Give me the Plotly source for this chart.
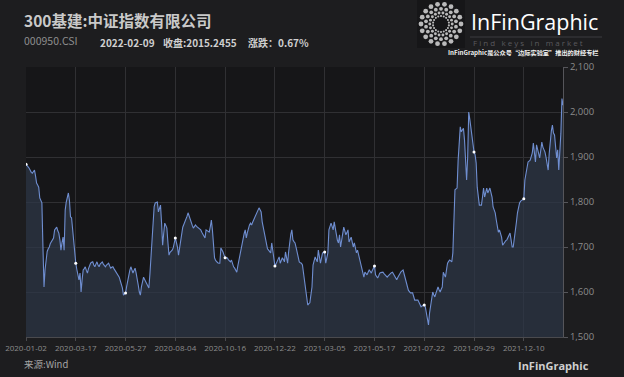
import numpy as np
import plotly.graph_objects as go

# ---------------- data ----------------
tick_labels = ["2020-01-02", "2020-03-17", "2020-05-27", "2020-08-04", "2020-10-16",
               "2020-12-22", "2021-03-05", "2021-05-17", "2021-07-22", "2021-09-29",
               "2021-12-10"]
tick_step = 47  # trading days between labelled dates
y_ticks = [1500, 1600, 1700, 1800, 1900, 2000, 2100]

close = [
    1884, 1882, 1878, 1875, 1870, 1866, 1864, 1868, 1871, 1858,
    1842, 1838, 1833, 1809, 1802, 1798, 1700, 1611, 1650, 1678,
    1690, 1696, 1700, 1708, 1712, 1716, 1720, 1738, 1741, 1744,
    1736, 1731, 1716, 1693, 1710, 1722, 1693, 1782, 1800, 1812,
    1820, 1804, 1767, 1765, 1738, 1700, 1680, 1664, 1650, 1638,
    1627, 1642, 1600, 1628, 1649, 1652, 1656, 1648, 1642, 1652,
    1660, 1664, 1666, 1667, 1660, 1656, 1662, 1667, 1660, 1656,
    1662, 1665, 1667, 1662, 1658, 1656, 1660, 1663, 1664, 1658,
    1653, 1655, 1656, 1652, 1648, 1645, 1642, 1638, 1633, 1625,
    1616, 1609, 1593, 1596, 1598, 1612, 1627, 1638, 1648, 1656,
    1650, 1642, 1648, 1653, 1642, 1631, 1615, 1600, 1593, 1612,
    1627, 1633, 1628, 1624, 1620, 1614, 1609, 1640, 1678, 1730,
    1776, 1790, 1798, 1800, 1800, 1778, 1786, 1793, 1753, 1704,
    1730, 1753, 1748, 1742, 1710, 1682, 1688, 1690, 1693, 1698,
    1710, 1720, 1710, 1700, 1682, 1700, 1716, 1730, 1744, 1750,
    1755, 1760, 1768, 1776, 1768, 1760, 1754, 1748, 1742, 1746,
    1749, 1746, 1744, 1742, 1740, 1738, 1733, 1728, 1724, 1720,
    1738, 1736, 1734, 1733, 1745, 1760, 1738, 1709, 1676, 1670,
    1667, 1665, 1664, 1664, 1698, 1694, 1689, 1682, 1676, 1676,
    1676, 1672, 1669, 1667, 1671, 1660, 1656, 1653, 1648, 1644,
    1658, 1671, 1686, 1700, 1711, 1722, 1730, 1738, 1720, 1732,
    1744, 1749, 1753, 1749, 1755, 1760, 1767, 1772, 1778, 1782,
    1787, 1783, 1778, 1756, 1744, 1731, 1716, 1700, 1696, 1693,
    1690, 1687, 1709, 1690, 1671, 1658, 1662, 1667, 1672, 1678,
    1664, 1670, 1676, 1672, 1667, 1689, 1676, 1664, 1690, 1716,
    1728, 1738, 1716, 1712, 1709, 1699, 1689, 1678, 1667, 1665,
    1664, 1660, 1640, 1620, 1598, 1585, 1571, 1574, 1576, 1594,
    1611, 1660, 1670, 1678, 1672, 1667, 1693, 1678, 1664, 1676,
    1687, 1688, 1689, 1664, 1676, 1687, 1738, 1746, 1753, 1746,
    1738, 1756, 1740, 1722, 1715, 1709, 1727, 1700, 1716, 1731,
    1744, 1736, 1727, 1732, 1738, 1711, 1716, 1722, 1711, 1700,
    1709, 1698, 1687, 1693, 1682, 1671, 1660, 1649, 1641, 1633,
    1644, 1641, 1638, 1644, 1649, 1646, 1642, 1648, 1652, 1658,
    1638, 1634, 1631, 1636, 1642, 1643, 1644, 1644, 1641, 1638,
    1636, 1633, 1636, 1639, 1642, 1643, 1644, 1640, 1635, 1631,
    1627, 1632, 1637, 1642, 1645, 1647, 1649, 1640, 1630, 1620,
    1612, 1604, 1601, 1598, 1598, 1598, 1590, 1582, 1582, 1582,
    1582, 1577, 1572, 1567, 1569, 1570, 1571, 1567, 1555, 1544,
    1527, 1553, 1571, 1589, 1600, 1594, 1589, 1597, 1604, 1611,
    1605, 1600, 1606, 1611, 1644, 1638, 1633, 1649, 1664, 1668,
    1671, 1669, 1667, 1687, 1767, 1827, 1829, 1831, 1893, 1930,
    1967, 1956, 1960, 1964, 1938, 1878, 1849, 1900, 2000, 1984,
    1967, 1938, 1925, 1911, 1905, 1887, 1833, 1812, 1793, 1793,
    1793, 1811, 1831, 1811, 1820, 1831, 1820, 1826, 1831, 1821,
    1811, 1789, 1782, 1776, 1760, 1742, 1733, 1738, 1730, 1722,
    1704, 1708, 1711, 1714, 1716, 1722, 1726, 1731, 1716, 1700,
    1700, 1716, 1731, 1755, 1776, 1789, 1798, 1802, 1804, 1806,
    1807, 1849, 1860, 1871, 1889, 1891, 1893, 1901, 1909, 1931,
    1910, 1889, 1927, 1916, 1907, 1898, 1915, 1933, 1922, 1916,
    1911, 1899, 1887, 1871, 1908, 1944, 1958, 1971, 1953, 1949,
    1924, 1898, 1916, 1871, 1912, 1953, 2030, 2015.2455,
]

# ---------------- figure ----------------
W, H = 624, 377
def px(x):
    return x / W
def py(y):
    return 1 - y / H

idx = list(range(len(close)))
tick_idx = [i * tick_step for i in range(len(tick_labels))]

BG = "#1d1d1f"
PLOT_BG = "#161618"
GRID = "#303033"
TXT = "#8c8c8c"

fig = go.Figure()
fig.add_trace(go.Scatter(
    x=idx, y=close, mode="lines",
    line=dict(color="#6f8ed0", width=1.1),
    fill="tozeroy", fillcolor="rgba(46,56,72,0.72)",
    hoverinfo="skip", showlegend=False))
fig.add_trace(go.Scatter(
    x=tick_idx, y=[close[i] for i in tick_idx], mode="markers",
    marker=dict(color="white", size=3), hoverinfo="skip", showlegend=False))

# logo (decorative rings of dots)
lx, ly, ls = [], [], []
for r, n, s, off in [(20, 18, 4.8, 0.0), (15.2, 18, 3.8, 0.5), (11.2, 18, 2.9, 0.0), (8, 18, 2.1, 0.5)]:
    for k in range(n):
        a = 2 * np.pi * (k + off) / n
        lx.append(r * np.cos(a)); ly.append(r * np.sin(a)); ls.append(s)
fig.add_trace(go.Scatter(x=lx, y=ly, mode="markers", xaxis="x3", yaxis="y3",
                         marker=dict(color="white", size=ls, line=dict(width=0)),
                         hoverinfo="skip", showlegend=False))

fig.update_layout(
    width=W, height=H,
    margin=dict(l=0, r=0, t=0, b=0, autoexpand=False),
    paper_bgcolor=BG, plot_bgcolor=PLOT_BG,
    font=dict(family="Noto Sans CJK SC, Noto Sans, sans-serif", color=TXT),
    xaxis=dict(domain=[px(26), px(563)], range=[0, len(close) - 1],
               tickvals=tick_idx, ticktext=tick_labels,
               tickfont=dict(size=8, color=TXT, family="Open Sans"),
               showgrid=True, gridcolor=GRID, gridwidth=1,
               zeroline=False, showline=True, linecolor="#4a4a4e",
               ticks="outside", ticklen=3, tickcolor="#4a4a4e", automargin=False),
    yaxis=dict(domain=[py(337), py(67)], range=[1500, 2100], side="right",
               tickvals=y_ticks, tickformat=",",
               tickfont=dict(size=9.5, color=TXT, family="Open Sans"),
               showgrid=True, gridcolor=GRID, zeroline=False,
               showline=True, linecolor="#55555a",
               ticks="outside", ticklen=4, tickcolor="#55555a", automargin=False),
    xaxis3=dict(domain=[px(417), px(465)], range=[-24, 24], visible=False, fixedrange=True),
    yaxis3=dict(domain=[py(48), 1], range=[-24, 24], visible=False, fixedrange=True,
                anchor="x3"),
    hovermode=False,
)

def ann(text, x, y, size, color, xanchor="left", family="Noto Sans CJK SC"):
    fig.add_annotation(text=text, x=px(x), y=py(y), xref="paper", yref="paper",
                       xanchor=xanchor, yanchor="middle", showarrow=False,
                       borderpad=0, font=dict(size=size, color=color, family=family))

ann("<b>300基建:中证指数有限公司</b>", 23, 20, 15.5, "#c9c9c9")
ann("000950.CSI", 23, 41, 10.5, "#8e8e8e")
ann("<b>2022-02-09</b>", 99, 42, 10, "#cfcfcf")
ann("<b>收盘:2015.2455</b>", 162, 42, 10, "#cfcfcf")
ann("<b>涨跌：0.67%</b>", 247, 42, 10, "#cfcfcf")
ann("InFinGraphic", 470, 21, 21.5, "#ffffff", family="Open Sans")
ann("F i n d   k e y s   i n   m a r k e t", 472, 43, 8, "#5a5a5e", family="Open Sans")
ann("<b>InFinGraphic是公众号“边际实验室”推出的财经专栏</b>", 447, 52.5, 6.2, "#f0f0f0")
ann("来源:Wind", 23, 364, 9.5, "#a5a5a5")
ann("<b>InFinGraphic</b>", 590, 365, 11, "#cfcfcf", xanchor="right", family="Open Sans")

fig.add_shape(type="line", xref="paper", yref="paper",
              x0=px(470), x1=px(602), y0=py(37), y1=py(37),
              line=dict(color="#3c3c40", width=1))

fig.write_html("out.html", config={"displayModeBar": False, "staticPlot": True},
               post_script="document.body.style.margin='0';document.body.style.overflow='hidden';")
